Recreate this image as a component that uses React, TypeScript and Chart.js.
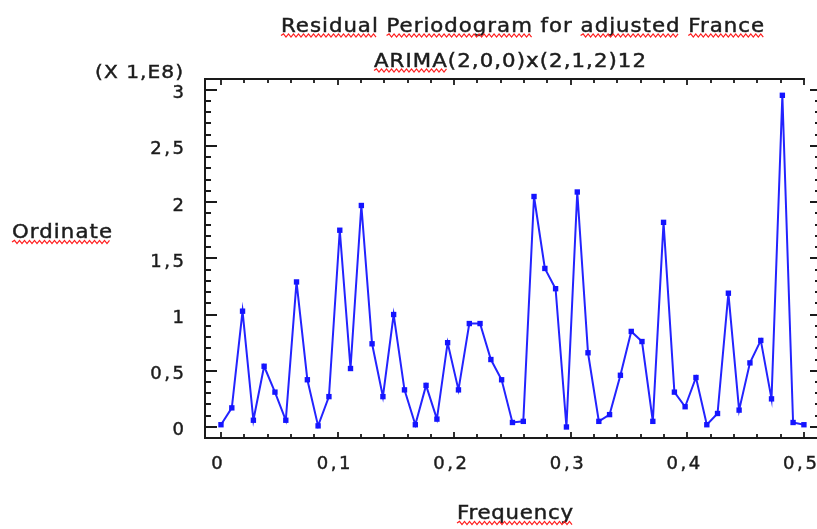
import React, { useEffect, useRef } from 'react';
import { Chart, registerables } from 'chart.js';

Chart.register(...registerables);

// Fourier frequencies k/108 (k = 0..54)
const frequencies = [
  0.0, 0.0093, 0.0185, 0.0278, 0.037, 0.0463, 0.0556, 0.0648, 0.0741, 0.0833,
  0.0926, 0.1019, 0.1111, 0.1204, 0.1296, 0.1389, 0.1481, 0.1574, 0.1667, 0.1759,
  0.1852, 0.1944, 0.2037, 0.213, 0.2222, 0.2315, 0.2407, 0.25, 0.2593, 0.2685,
  0.2778, 0.287, 0.2963, 0.3056, 0.3148, 0.3241, 0.3333, 0.3426, 0.3519, 0.3611,
  0.3704, 0.3796, 0.3889, 0.3981, 0.4074, 0.4167, 0.4259, 0.4352, 0.4444, 0.4537,
  0.463, 0.4722, 0.4815, 0.4907, 0.5,
];

// Ordinates in units of 1E8
const ordinates = [
  0.02, 0.17, 1.03, 0.06, 0.54, 0.31, 0.06, 1.29, 0.42, 0.01,
  0.27, 1.75, 0.52, 1.97, 0.74, 0.27, 1.0, 0.33, 0.02, 0.37,
  0.07, 0.75, 0.33, 0.92, 0.92, 0.6, 0.42, 0.04, 0.05, 2.05,
  1.41, 1.23, 0.0, 2.09, 0.66, 0.05, 0.11, 0.46, 0.85, 0.76,
  0.05, 1.82, 0.31, 0.18, 0.44, 0.02, 0.12, 1.19, 0.15, 0.57,
  0.77, 0.25, 2.95, 0.04, 0.02,
];

const xTickValues = [0, 0.1, 0.2, 0.3, 0.4, 0.5];
const xTickLabels = ['0', '0,1', '0,2', '0,3', '0,4', '0,5'];
const yTickValues = [0, 0.5, 1, 1.5, 2, 2.5, 3];
const yTickLabels = ['0', '0,5', '1', '1,5', '2', '2,5', '3'];

const titleLine1 = 'Residual Periodogram for adjusted France';
const titleLine2 = 'ARIMA(2,0,0)x(2,1,2)12';
const scaleNote = '(X 1,E8)';
const yAxisTitle = 'Ordinate';
const xAxisTitle = 'Frequency';

const FONT = "'DejaVu Sans', sans-serif";
const TEXT_COLOR = '#1c1c1c';

type TextSpec = {
  text: string;
  left: number;
  baseline: number;
  width: number;
  size: number;
  underline: string[];
};

const textSpecs: TextSpec[] = [
  { text: titleLine1, left: 281, baseline: 31.5, width: 483, size: 19, underline: ['Residual', 'Periodogram', 'adjusted', 'France'] },
  { text: titleLine2, left: 374, baseline: 66.5, width: 272, size: 19, underline: ['ARIMA'] },
  { text: scaleNote, left: 95, baseline: 77.5, width: 88, size: 18, underline: [] },
  { text: yAxisTitle, left: 12, baseline: 238, width: 100, size: 19, underline: ['Ordinate'] },
  { text: xAxisTitle, left: 457, baseline: 519, width: 116, size: 19, underline: ['Frequency'] },
];

const STRETCH = 1.12;

function drawWavy(ctx: CanvasRenderingContext2D, x0: number, x1: number, y: number) {
  ctx.save();
  ctx.setTransform(1, 0, 0, 1, 0, 0);
  ctx.strokeStyle = 'rgb(255,30,30)';
  ctx.lineWidth = 1.2;
  ctx.beginPath();
  let up = true;
  ctx.moveTo(x0, y);
  for (let x = x0 + 2.5; x <= x1; x += 2.5) {
    ctx.lineTo(x, up ? y - 1.6 : y + 1.6);
    up = !up;
  }
  ctx.stroke();
  ctx.restore();
}

function drawSpaced(
  ctx: CanvasRenderingContext2D,
  text: string,
  left: number,
  baseline: number,
  ls: number,
  sx: number,
) {
  ctx.save();
  (ctx as any).letterSpacing = `${ls}px`;
  ctx.translate(left, baseline);
  ctx.scale(sx, 1);
  ctx.textAlign = 'left';
  ctx.textBaseline = 'alphabetic';
  ctx.fillStyle = TEXT_COLOR;
  ctx.strokeStyle = TEXT_COLOR;
  ctx.lineWidth = 0.45;
  ctx.fillText(text, 0, 0);
  ctx.strokeText(text, 0, 0);
  ctx.restore();
}

function measure(ctx: CanvasRenderingContext2D, text: string, ls: number) {
  (ctx as any).letterSpacing = `${ls}px`;
  const w = ctx.measureText(text).width;
  (ctx as any).letterSpacing = '0px';
  return w;
}

const textPlugin = {
  id: 'customText',
  afterDraw(chart: any) {
    const ctx: CanvasRenderingContext2D = chart.ctx;
    // titles and axis titles
    for (const s of textSpecs) {
      ctx.save();
      ctx.font = `${s.size}px ${FONT}`;
      const base = measure(ctx, s.text, 0) * STRETCH;
      const ls = (s.width - base) / Math.max(1, s.text.length - 1) / STRETCH;
      drawSpaced(ctx, s.text, s.left, s.baseline, ls, STRETCH);
      for (const w of s.underline) {
        const idx = s.text.indexOf(w);
        if (idx < 0) continue;
        const pre = idx > 0 ? measure(ctx, s.text.slice(0, idx), ls) * STRETCH : 0;
        const ww = (measure(ctx, w, ls) - ls) * STRETCH;
        drawWavy(ctx, s.left + pre, s.left + pre + ww, s.baseline + 4);
      }
      ctx.restore();
    }
    // tick labels
    const xs = chart.scales.x;
    const ys = chart.scales.y;
    const tickLs = 2.6;
    ctx.save();
    ctx.font = `18px ${FONT}`;
    xTickValues.forEach((v, i) => {
      const label = xTickLabels[i];
      const w = measure(ctx, label, tickLs) - tickLs;
      const cx = xs.getPixelForValue(v) - 4;
      drawSpaced(ctx, label, cx - w / 2, 469, tickLs, 1);
    });
    yTickValues.forEach((v, i) => {
      const label = yTickLabels[i];
      const w = measure(ctx, label, tickLs) - tickLs;
      const py = ys.getPixelForValue(v);
      drawSpaced(ctx, label, 184 - w, py + 8.5, tickLs, 1);
    });
    ctx.restore();
  },
};

const framePlugin = {
  id: 'frame',
  beforeDatasetsDraw(chart: any) {
    const ctx: CanvasRenderingContext2D = chart.ctx;
    const { left, right, top, bottom } = chart.chartArea;
    const xs = chart.scales.x;
    const ys = chart.scales.y;
    ctx.save();
    ctx.strokeStyle = '#1a1a1a';
    ctx.lineWidth = 2;
    ctx.beginPath();
    const topEnd = xs.getPixelForValue(0.5) + 1;
    ctx.moveTo(topEnd, top);
    ctx.lineTo(left, top);
    ctx.lineTo(left, bottom);
    ctx.lineTo(right, bottom);
    ctx.lineTo(right, top);
    ctx.stroke();

    ctx.lineWidth = 1.8;
    ctx.beginPath();
    for (let i = 0; i <= 25; i++) {
      const px = Math.round(xs.getPixelForValue(i * 0.02));
      const major = i % 5 === 0;
      const l = major ? 6 : 4;
      ctx.moveTo(px, bottom);
      ctx.lineTo(px, bottom - l);
      ctx.moveTo(px, top);
      ctx.lineTo(px, top + l);
    }
    for (let i = 0; i <= 30; i++) {
      const py = Math.round(ys.getPixelForValue(i * 0.1));
      const major = i % 5 === 0;
      ctx.moveTo(left, py);
      ctx.lineTo(left + (major ? 12 : 6), py);
      ctx.moveTo(right, py);
      ctx.lineTo(right - (major ? 12 : 7), py);
    }
    ctx.stroke();
    ctx.restore();
  },
};

export default function App() {
  const canvasRef = useRef<HTMLCanvasElement | null>(null);

  useEffect(() => {
    document.body.style.margin = '0';
    const canvas = canvasRef.current;
    if (!canvas) return;
    const chart = new Chart(canvas, {
      type: 'line',
      data: {
        datasets: [
          {
            data: frequencies.map((f, i) => ({ x: f, y: ordinates[i] })),
            borderColor: 'rgb(35,35,255)',
            backgroundColor: 'rgb(20,20,255)',
            borderWidth: 2,
            pointStyle: 'rect',
            pointRadius: 3.8,
            pointBorderWidth: 0,
            tension: 0,
          },
        ],
      },
      options: {
        responsive: false,
        animation: false,
        events: [],
        layout: { padding: { left: 0, top: 79, right: 8, bottom: 0 } },
        plugins: {
          legend: { display: false },
          title: { display: false },
          tooltip: { enabled: false },
        },
        scales: {
          x: {
            type: 'linear',
            min: -0.0137,
            max: 0.5155,
            grid: { display: false, drawTicks: false },
            border: { display: false },
            ticks: { display: false },
            afterFit: (s: any) => {
              s.height = 529 - 438;
            },
          },
          y: {
            type: 'linear',
            min: -0.098,
            max: 3.095,
            grid: { display: false, drawTicks: false },
            border: { display: false },
            ticks: { display: false },
            afterFit: (s: any) => {
              s.width = 205;
            },
          },
        },
      },
      plugins: [framePlugin, textPlugin],
    });
    return () => chart.destroy();
  }, []);

  return (
    <div style={{ position: 'fixed', left: 0, top: 0, width: 817, height: 529, overflow: 'hidden', background: '#fff' }}>
      <canvas ref={canvasRef} width={830} height={529} style={{ display: 'block' }} />
    </div>
  );
}
